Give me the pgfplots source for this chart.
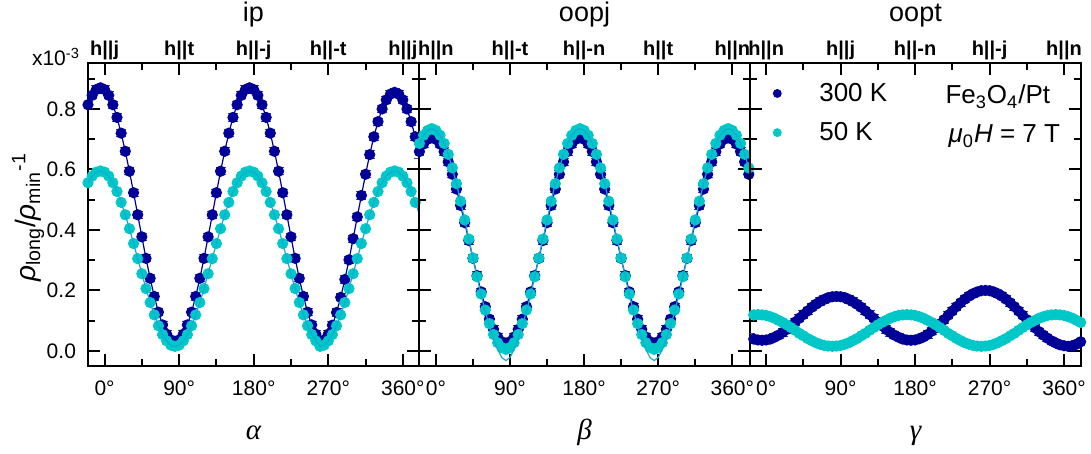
\documentclass[border=0pt]{standalone}
\usepackage{fontspec}
\setmainfont{Liberation Sans}
\newfontfamily\serifgr{Liberation Serif}
\usepackage{pgfplots}
\pgfplotsset{compat=1.18}
\usepackage{pgfplotstable}
\definecolor{navyb}{RGB}{0,0,153}
\definecolor{cyanb}{RGB}{0,200,200}
\definecolor{cyanl}{RGB}{20,170,210}

\pgfplotstableread{
x b c
-20 0.814 0.556
-15 0.845 0.578
-10 0.864 0.591
-5 0.870 0.595
0 0.864 0.591
5 0.845 0.578
10 0.814 0.556
15 0.772 0.527
20 0.720 0.491
25 0.660 0.450
30 0.594 0.404
35 0.523 0.355
40 0.450 0.305
45 0.377 0.255
50 0.306 0.206
55 0.240 0.160
60 0.180 0.119
65 0.128 0.083
70 0.086 0.054
75 0.055 0.033
80 0.036 0.019
85 0.030 0.015
90 0.036 0.019
95 0.055 0.033
100 0.086 0.054
105 0.128 0.083
110 0.180 0.119
115 0.240 0.160
120 0.306 0.206
125 0.377 0.255
130 0.450 0.305
135 0.523 0.355
140 0.594 0.404
145 0.660 0.450
150 0.720 0.491
155 0.772 0.527
160 0.814 0.556
165 0.845 0.578
170 0.864 0.591
175 0.870 0.595
180 0.864 0.591
185 0.845 0.578
190 0.814 0.556
195 0.772 0.527
200 0.720 0.491
205 0.660 0.450
210 0.594 0.404
215 0.523 0.355
220 0.450 0.305
225 0.377 0.255
230 0.306 0.206
235 0.240 0.160
240 0.180 0.119
245 0.128 0.083
250 0.086 0.054
255 0.055 0.033
260 0.031 0.015
265 0.036 0.019
270 0.055 0.033
275 0.085 0.054
280 0.127 0.083
285 0.177 0.119
290 0.236 0.160
295 0.301 0.206
300 0.371 0.255
305 0.443 0.305
310 0.514 0.355
315 0.584 0.404
320 0.649 0.450
325 0.708 0.491
330 0.758 0.527
335 0.800 0.556
340 0.830 0.578
345 0.849 0.591
350 0.855 0.595
355 0.849 0.591
360 0.830 0.578
365 0.800 0.556
370 0.758 0.527
375 0.708 0.491
380 0.649 0.450
}\tabA

\pgfplotstableread{
x b c cf
-20 0.659 0.686 0.686
-15 0.684 0.713 0.713
-10 0.700 0.729 0.729
-5 0.705 0.735 0.735
0 0.700 0.729 0.729
5 0.684 0.713 0.713
10 0.659 0.686 0.686
15 0.625 0.650 0.650
20 0.584 0.605 0.605
25 0.535 0.553 0.553
30 0.481 0.495 0.495
35 0.424 0.433 0.433
40 0.365 0.370 0.370
45 0.306 0.307 0.307
50 0.249 0.245 0.245
55 0.195 0.188 0.185
60 0.146 0.135 0.130
65 0.105 0.090 0.082
70 0.071 0.054 0.040
75 0.046 0.027 0.005
80 0.030 0.011 -0.022
85 0.025 0.005 -0.032
90 0.030 0.011 -0.022
95 0.046 0.027 0.005
100 0.071 0.054 0.040
105 0.105 0.090 0.082
110 0.146 0.135 0.130
115 0.195 0.188 0.185
120 0.249 0.245 0.245
125 0.306 0.307 0.307
130 0.365 0.370 0.370
135 0.424 0.433 0.433
140 0.481 0.495 0.495
145 0.535 0.553 0.553
150 0.584 0.605 0.605
155 0.625 0.650 0.650
160 0.659 0.686 0.686
165 0.684 0.713 0.713
170 0.700 0.729 0.729
175 0.705 0.735 0.735
180 0.700 0.729 0.729
185 0.684 0.713 0.713
190 0.659 0.686 0.686
195 0.625 0.650 0.650
200 0.584 0.605 0.605
205 0.535 0.553 0.553
210 0.481 0.495 0.495
215 0.424 0.433 0.433
220 0.365 0.370 0.370
225 0.306 0.307 0.307
230 0.249 0.245 0.245
235 0.195 0.188 0.185
240 0.146 0.135 0.130
245 0.105 0.090 0.082
250 0.071 0.054 0.040
255 0.046 0.027 0.005
260 0.030 0.011 -0.022
265 0.025 0.005 -0.032
270 0.030 0.011 -0.022
275 0.046 0.027 0.005
280 0.071 0.054 0.040
285 0.105 0.090 0.082
290 0.146 0.135 0.130
295 0.195 0.188 0.185
300 0.249 0.245 0.245
305 0.306 0.307 0.307
310 0.365 0.370 0.370
315 0.424 0.433 0.433
320 0.481 0.495 0.495
325 0.535 0.553 0.553
330 0.584 0.605 0.605
335 0.625 0.650 0.650
340 0.659 0.686 0.686
345 0.684 0.713 0.713
350 0.700 0.729 0.729
355 0.705 0.735 0.735
360 0.700 0.729 0.729
365 0.684 0.713 0.713
370 0.659 0.686 0.686
375 0.625 0.650 0.650
380 0.584 0.605 0.605
}\tabB

\pgfplotstableread{
x b c
-20 0.045 0.117
-15 0.039 0.119
-10 0.036 0.120
-5 0.035 0.119
0 0.036 0.117
5 0.039 0.113
10 0.045 0.108
15 0.052 0.101
20 0.061 0.094
25 0.071 0.086
30 0.083 0.077
35 0.095 0.068
40 0.108 0.058
45 0.120 0.050
50 0.132 0.041
55 0.144 0.034
60 0.154 0.027
65 0.163 0.022
70 0.170 0.018
75 0.176 0.016
80 0.179 0.015
85 0.180 0.016
90 0.179 0.018
95 0.176 0.022
100 0.170 0.027
105 0.163 0.034
110 0.154 0.041
115 0.144 0.050
120 0.132 0.058
125 0.120 0.068
130 0.108 0.077
135 0.095 0.086
140 0.083 0.094
145 0.071 0.101
150 0.061 0.108
155 0.052 0.113
160 0.045 0.117
165 0.039 0.119
170 0.036 0.120
175 0.035 0.119
180 0.036 0.117
185 0.040 0.113
190 0.046 0.108
195 0.054 0.101
200 0.065 0.094
205 0.076 0.086
210 0.089 0.077
215 0.103 0.068
220 0.118 0.058
225 0.132 0.050
230 0.146 0.041
235 0.159 0.034
240 0.171 0.027
245 0.181 0.022
250 0.189 0.018
255 0.195 0.016
260 0.199 0.015
265 0.200 0.016
270 0.199 0.018
275 0.195 0.022
280 0.189 0.027
285 0.181 0.034
290 0.171 0.041
295 0.159 0.050
300 0.146 0.058
305 0.132 0.068
310 0.118 0.077
315 0.103 0.086
320 0.089 0.094
325 0.076 0.101
330 0.063 0.108
335 0.052 0.113
340 0.042 0.117
345 0.033 0.119
350 0.026 0.120
355 0.020 0.119
360 0.017 0.117
365 0.015 0.113
370 0.017 0.108
375 0.022 0.101
380 0.030 0.094
}\tabC

\pgfplotsset{
  panel/.style={
    scale only axis, width=165.5pt, height=151.5pt,
    xmin=-20, xmax=379.5, ymin=-0.05, ymax=0.952,
    clip mode=individual,
    axis line style={line width=1pt},
    tick style={line width=1pt, black},
    tick align=inside,
    major tick length=6pt, minor tick length=3.5pt,
    xtick={0,90,180,270,360},
    minor xtick={45,135,225,315},
    xticklabels={0°,90°,180°,270°,360°},
    ytick={0,0.2,0.4,0.6,0.8},
    minor ytick={0.1,0.3,0.5,0.7,0.9},
    yticklabels={},
    tick label style={font=\fontsize{10.5}{12}\selectfont},
    xticklabel style={yshift=-4pt},
    yticklabel style={xshift=-2.5pt},
  },
  bluep/.style={navyb, line width=0.6pt, mark=*, mark size=2.5pt,
    mark options={solid, fill=navyb, draw=navyb},
    error bars/y dir=both, error bars/y fixed=0.012,
    error bars/error bar style={navyb!75, line width=0.5pt},
    error bars/error mark options={rotate=90, mark size=2.5pt, navyb!75, line width=0.5pt}},
  cyanp/.style={only marks, mark=*, mark size=2.6pt, mark options={fill=cyanb, draw=cyanb}},
  cyanline/.style={cyanl, line width=0.6pt, no marks},
}
\tikzset{
  toplab/.style={anchor=base, yshift=3.5pt, font=\fontsize{10}{12}\selectfont\bfseries},
  ttl/.style={anchor=base, font=\fontsize{13.5}{15}\selectfont},
  glab/.style={anchor=base, font=\fontsize{14.5}{16}\selectfont\serifgr\itshape},
}

\begin{document}
\begin{tikzpicture}
\useasboundingbox (-44pt,-44pt) rectangle (501.5pt,183pt);

% ---------- panel 1: ip ----------
\begin{axis}[panel, at={(0pt,0pt)}, anchor=south west,
  yticklabels={0.0,0.2,0.4,0.6,0.8}]
  \addplot[bluep] table[x=x, y=b] {\tabA};
  \addplot[cyanp] table[x=x, y=c] {\tabA};
  \addplot[cyanline] table[x=x, y=c] {\tabA};
  \node[ttl] at ([yshift=20.5pt]rel axis cs:0.5,1) {ip};
  \node[toplab] at (axis cs:0,0.952) {h||j};
  \node[toplab] at (axis cs:90,0.952) {h||t};
  \node[toplab] at (axis cs:180,0.952) {h||-j};
  \node[toplab] at (axis cs:270,0.952) {h||-t};
  \node[toplab] at (axis cs:360,0.952) {h||j};
  \node[glab] at ([yshift=-37pt]rel axis cs:0.5,0) {α};
  \node[anchor=base east, font=\fontsize{10.5}{12}\selectfont] at ([xshift=-0.5pt,yshift=-1.5pt]rel axis cs:0,1) {x10\textsuperscript{-3}};
  \node[rotate=90, anchor=center, font=\fontsize{14}{16}\selectfont] at ([xshift=-30pt]rel axis cs:0,0.49)
    {{\itshape ρ}\textsubscript{long}/{\itshape ρ}\textsubscript{min}\textsuperscript{-1}};
\end{axis}

% ---------- panel 2: oopj ----------
\begin{axis}[panel, at={(165.5pt,0pt)}, anchor=south west, xmin=-20.5, xmax=381.5]
  \addplot[bluep] table[x=x, y=b] {\tabB};
  \addplot[cyanp] table[x=x, y=c] {\tabB};
  \addplot[cyanline] table[x=x, y=cf] {\tabB};
  \node[ttl] at ([yshift=20.5pt]rel axis cs:0.5,1) {oopj};
  \node[toplab] at (axis cs:0,0.952) {h||n};
  \node[toplab] at (axis cs:90,0.952) {h||-t};
  \node[toplab] at (axis cs:180,0.952) {h||-n};
  \node[toplab] at (axis cs:270,0.952) {h||t};
  \node[toplab] at (axis cs:360,0.952) {h||n};
  \node[glab] at ([yshift=-37pt]rel axis cs:0.5,0) {β};
\end{axis}

% ---------- panel 3: oopt ----------
\begin{axis}[panel, at={(331pt,0pt)}, anchor=south west, xmin=-19.5, xmax=380.5,
  legend style={draw=none, fill=none, font=\fontsize{13}{15}\selectfont,
    at={(rel axis cs:0.045,0.962)}, anchor=north west, row sep=5pt},
  legend cell align=left,
  legend image code/.code={\path[draw=none, fill=none] (-3pt,-1pt) rectangle (19pt,1pt); \draw[#1] plot coordinates {(0pt,0pt)};}]
  \addlegendimage{only marks, mark=*, mark size=2pt, mark options={fill=navyb, draw=navyb}}
  \addlegendentry{300 K}
  \addlegendimage{only marks, mark=*, mark size=2pt, mark options={fill=cyanb, draw=cyanb}}
  \addlegendentry{50 K}
  \addplot[forget plot, bluep] table[x=x, y=b] {\tabC};
  \addplot[forget plot, cyanp] table[x=x, y=c] {\tabC};
  \node[ttl] at ([yshift=20.5pt]rel axis cs:0.5,1) {oopt};
  \node[toplab] at (axis cs:0,0.952) {h||n};
  \node[toplab] at (axis cs:90,0.952) {h||j};
  \node[toplab] at (axis cs:180,0.952) {h||-n};
  \node[toplab] at (axis cs:270,0.952) {h||-j};
  \node[toplab] at (axis cs:360,0.952) {h||n};
  \node[glab] at ([yshift=-37pt]rel axis cs:0.5,0) {γ};
  \node[anchor=base east, font=\fontsize{13}{15}\selectfont] at (rel axis cs:0.928,0.865) {Fe\textsubscript{3}O\textsubscript{4}/Pt};
  \node[anchor=base east, font=\fontsize{13}{15}\selectfont] at (rel axis cs:0.958,0.737) {{\itshape μ}\textsubscript{0}{\itshape H} = 7 T};
\end{axis}
\end{tikzpicture}
\end{document}
